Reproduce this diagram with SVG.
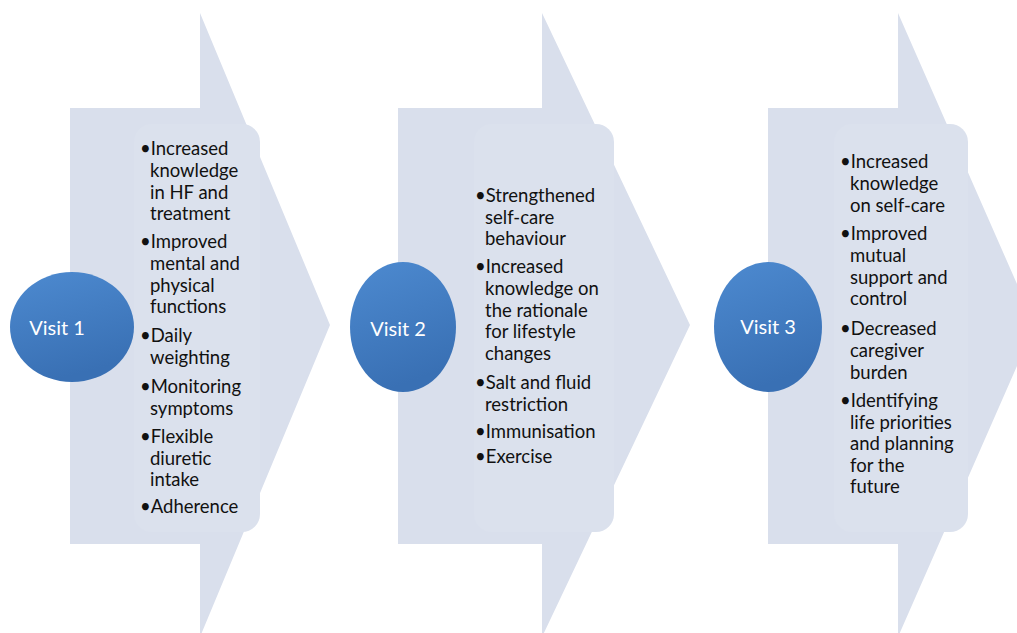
<svg xmlns="http://www.w3.org/2000/svg" width="1017" height="633" viewBox="0 0 1017 633">
  <defs>
    <linearGradient id="ball" x1="0" y1="0" x2="0.3" y2="1">
      <stop offset="0" stop-color="#4d8ad0"/>
      <stop offset="1" stop-color="#3970b4"/>
    </linearGradient>
    <style>
      .arrow { fill: #d9dfec; }
      .box { fill: #dbe1ed; }
      .ball { fill: url(#ball); }
      .vlabel { font-family: Lato, "Liberation Sans", sans-serif; font-size: 20px; fill: #ffffff; text-anchor: middle; }
      .list { font-family: Lato, "Liberation Sans", sans-serif; font-size: 18.5px; fill: #111111; }
    </style>
  </defs>
  <rect width="1017" height="633" fill="#ffffff"/>

  <g id="visit1">
    <polygon class="arrow" points="70,108 200,108 200,13 330,325 200,637 200,544 70,544"/>
    <rect class="box" x="134" y="124" width="126" height="408" rx="18"/>
    <ellipse class="ball" cx="72" cy="327" rx="62" ry="55"/>
    <text class="vlabel" x="57" y="335">Visit 1</text>
    <text class="list">
      <tspan x="140" y="155">•Increased</tspan>
      <tspan x="150" y="177">knowledge</tspan>
      <tspan x="150" y="198.5">in HF and</tspan>
      <tspan x="150" y="220">treatment</tspan>
      <tspan x="140" y="248">•Improved</tspan>
      <tspan x="150" y="270">mental and</tspan>
      <tspan x="150" y="291.5">physical</tspan>
      <tspan x="150" y="313">functions</tspan>
      <tspan x="140" y="342">•Daily</tspan>
      <tspan x="150" y="364">weighting</tspan>
      <tspan x="140" y="393">•Monitoring</tspan>
      <tspan x="150" y="415">symptoms</tspan>
      <tspan x="140" y="443">•Flexible</tspan>
      <tspan x="150" y="464.5">diuretic</tspan>
      <tspan x="150" y="486">intake</tspan>
      <tspan x="140" y="513">•Adherence</tspan>
    </text>
  </g>

  <g id="visit2">
    <polygon class="arrow" points="398,108 542,108 542,13 690,325 542,637 542,544 398,544"/>
    <rect class="box" x="474" y="124" width="140" height="408" rx="18"/>
    <ellipse class="ball" cx="403" cy="327" rx="53" ry="65"/>
    <text class="vlabel" x="398" y="336">Visit 2</text>
    <text class="list">
      <tspan x="475" y="202">•Strengthened</tspan>
      <tspan x="485" y="223.5">self-care</tspan>
      <tspan x="485" y="245">behaviour</tspan>
      <tspan x="475" y="273">•Increased</tspan>
      <tspan x="485" y="295">knowledge on</tspan>
      <tspan x="485" y="316.5">the rationale</tspan>
      <tspan x="485" y="338">for lifestyle</tspan>
      <tspan x="485" y="360">changes</tspan>
      <tspan x="475" y="389">•Salt and fluid</tspan>
      <tspan x="485" y="411">restriction</tspan>
      <tspan x="475" y="438">•Immunisation</tspan>
      <tspan x="475" y="463">•Exercise</tspan>
    </text>
  </g>

  <g id="visit3">
    <polygon class="arrow" points="768,108 898,108 898,13 1035,325 898,637 898,544 768,544"/>
    <rect class="box" x="834" y="124" width="134" height="408" rx="18"/>
    <ellipse class="ball" cx="768" cy="327" rx="54" ry="65"/>
    <text class="vlabel" x="768" y="334">Visit 3</text>
    <text class="list">
      <tspan x="840" y="168">•Increased</tspan>
      <tspan x="850" y="190">knowledge</tspan>
      <tspan x="850" y="212">on self-care</tspan>
      <tspan x="840" y="240">•Improved</tspan>
      <tspan x="850" y="262">mutual</tspan>
      <tspan x="850" y="283.5">support and</tspan>
      <tspan x="850" y="305">control</tspan>
      <tspan x="840" y="335">•Decreased</tspan>
      <tspan x="850" y="357">caregiver</tspan>
      <tspan x="850" y="378.5">burden</tspan>
      <tspan x="840" y="407">•Identifying</tspan>
      <tspan x="850" y="428.5">life priorities</tspan>
      <tspan x="850" y="450">and planning</tspan>
      <tspan x="850" y="471.5">for the</tspan>
      <tspan x="850" y="493">future</tspan>
    </text>
  </g>

  <g id="connectors"></g>
</svg>
